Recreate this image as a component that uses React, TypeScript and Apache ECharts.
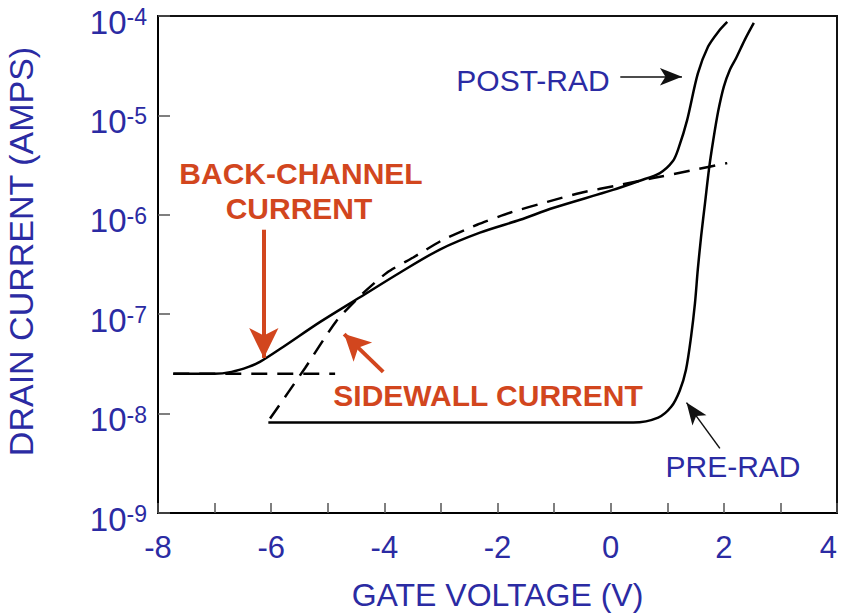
import React, { useEffect, useRef } from "react";
import * as echarts from "echarts";

// ---- data (gate voltage in V, drain current in A) ----
const postRadV = [-7.73, -7.0, -6.7, -6.4, -6.2, -5.79, -5.14, -4.43, -3.72, -3.02, -2.31, -1.6, -1.02, 0.04, 0.5, 0.87, 1.1, 1.2, 1.35, 1.54, 1.72, 1.9, 2.06];
const postRadI = [2.51e-8, 2.51e-8, 2.63e-8, 2.95e-8, 3.31e-8, 4.68e-8, 8.32e-8, 1.48e-7, 2.63e-7, 4.47e-7, 6.61e-7, 8.91e-7, 1.17e-6, 1.78e-6, 2.19e-6, 2.63e-6, 3.47e-6, 4.68e-6, 8.91e-6, 2.63e-5, 4.9e-5, 6.92e-5, 8.71e-5];

const preRadV = [-6.05, 0.0, 0.4, 0.84, 1.07, 1.22, 1.33, 1.42, 1.49, 1.54, 1.6, 1.67, 1.74, 1.81, 1.9, 2.0, 2.1, 2.22, 2.37, 2.53];
const preRadI = [8.13e-9, 8.13e-9, 8.13e-9, 9.12e-9, 1.17e-8, 1.7e-8, 2.75e-8, 5.89e-8, 1.29e-7, 2.82e-7, 6.17e-7, 1.35e-6, 2.95e-6, 5.5e-6, 1.1e-5, 1.95e-5, 2.82e-5, 3.8e-5, 5.75e-5, 8.51e-5];

const sidewallV = [-6.02, -5.4, -4.85, -4.4, -3.95, -3.49, -2.96, -2.36, -1.78, -1.12, -0.54, 0.17, 0.75, 1.46, 2.06];
const sidewallI = [8.91e-9, 2.88e-8, 8.51e-8, 1.58e-7, 2.63e-7, 3.72e-7, 5.62e-7, 7.94e-7, 1.05e-6, 1.35e-6, 1.66e-6, 2.0e-6, 2.34e-6, 2.82e-6, 3.31e-6];

const backChannelV = [-7.73, -4.87];
const backChannelI = [2.51e-8, 2.51e-8];

const xTicks = [-8, -6, -4, -2, 0, 2, 4];
const yExponents = [-4, -5, -6, -7, -8, -9];

const BLUE = "#2b2ba3";
const RED = "#d2461e";
const FONT = "'Liberation Sans', Arial, Helvetica, sans-serif";

const zip = (xs: number[], ys: number[]) => xs.map((x, i) => [x, ys[i]]);

export default function App() {
  const ref = useRef<HTMLDivElement>(null);
  useEffect(() => {
    document.body.style.margin = "0";
    const chart = echarts.init(ref.current!, null, { renderer: "svg" });
    const solid = { color: "#000", width: 2.5 };
    const dashed = { color: "#000", width: 2.5, type: [16, 10] as any };
    chart.setOption({
      animation: false,
      backgroundColor: "#fff",
      grid: {
        left: 158, right: 6, top: 16, bottom: 100,
        outerBoundsMode: "none", containLabel: false,
        show: true, borderColor: "#111", borderWidth: 2,
      },
      xAxis: {
        type: "value",
        min: -8,
        max: 4,
        interval: 1,
        name: "GATE VOLTAGE (V)",
        nameLocation: "middle",
        nameGap: 66,
        nameTextStyle: { color: BLUE, fontSize: 32, fontFamily: FONT },
        axisLine: { show: true, onZero: false, lineStyle: { color: "#000", width: 2 } },
        axisTick: { show: true, inside: true, length: 10, lineStyle: { color: "#555", width: 1.5 } },
        axisLabel: {
          color: BLUE,
          fontSize: 31,
          fontFamily: FONT,
          margin: 19,
          alignMaxLabel: "right",
          formatter: (v: number) => (xTicks.includes(v) ? String(v) : ""),
        },
        splitLine: { show: false },
      },
      yAxis: {
        type: "log",
        logBase: 10,
        min: 1e-9,
        max: 1e-4,
        name: "DRAIN CURRENT (AMPS)",
        nameLocation: "middle",
        nameGap: 120,
        nameTextStyle: { color: BLUE, fontSize: 34, fontFamily: FONT, padding: [0, 0, 0, 26] },
        axisLine: { show: true, onZero: false, lineStyle: { color: "#000", width: 2 } },
        axisTick: { show: true, inside: true, length: 12, lineStyle: { color: "#555", width: 1.5 } },
        axisLabel: {
          color: BLUE,
          fontFamily: FONT,
          margin: 11,
          padding: [12, 0, 0, 0],
          formatter: (v: number) => {
            const e = Math.round(Math.log10(v));
            return yExponents.includes(e) ? `{b|10}{s|${e}}` : "";
          },
          rich: {
            b: { fontSize: 33, color: BLUE, fontFamily: FONT, lineHeight: 33 },
            s: { fontSize: 23, color: BLUE, fontFamily: FONT, verticalAlign: "top", lineHeight: 23 },
          },
        },
        splitLine: { show: false },
      },
      series: [
        { name: "POST-RAD", type: "line", data: zip(postRadV, postRadI), showSymbol: false, smooth: 0.3, lineStyle: solid, silent: true },
        { name: "PRE-RAD", type: "line", data: zip(preRadV, preRadI), showSymbol: false, smooth: 0.3, lineStyle: solid, silent: true },
        { name: "SIDEWALL", type: "line", data: zip(sidewallV, sidewallI), showSymbol: false, smooth: 0.2, lineStyle: dashed, silent: true },
        {
          name: "BACK-CHANNEL",
          type: "line",
          data: zip(backChannelV, backChannelI),
          showSymbol: false,
          lineStyle: dashed,
          silent: true,
          markLine: {
            silent: true,
            animation: false,
            label: { show: false },
            data: [
              [
                { coord: [-6.13, 7.08e-7], symbol: "none", lineStyle: { color: RED, width: 4, type: "solid" } },
                { coord: [-6.13, 3.63e-8], symbol: "arrow", symbolSize: [22, 30] },
              ],
              [
                { coord: [-4.02, 2.63e-8], symbol: "none", lineStyle: { color: RED, width: 4, type: "solid" } },
                { coord: [-4.71, 6.31e-8], symbol: "arrow", symbolSize: [20, 26] },
              ],
              [
                { coord: [0.17, 2.45e-5], symbol: "none", lineStyle: { color: "#111", width: 1.5, type: "solid" } },
                { coord: [1.26, 2.45e-5], symbol: "arrow", symbolSize: [13, 22] },
              ],
              [
                { coord: [1.93, 4.47e-9], symbol: "none", lineStyle: { color: "#111", width: 1.5, type: "solid" } },
                { coord: [1.34, 1.29e-8], symbol: "arrow", symbolSize: [13, 22] },
              ],
            ],
          },
        },
      ],
      graphic: [
        { type: "text", x: 533, y: 80, style: { text: "POST-RAD", fill: BLUE, font: `30px ${FONT}`, textAlign: "center", textVerticalAlign: "middle" } },
        { type: "text", x: 733, y: 466, style: { text: "PRE-RAD", fill: BLUE, font: `30px ${FONT}`, textAlign: "center", textVerticalAlign: "middle" } },
        { type: "text", x: 301, y: 173, style: { text: "BACK-CHANNEL", fill: RED, font: `bold 30px ${FONT}`, textAlign: "center", textVerticalAlign: "middle" } },
        { type: "text", x: 299, y: 208, style: { text: "CURRENT", fill: RED, font: `bold 30px ${FONT}`, textAlign: "center", textVerticalAlign: "middle" } },
        { type: "text", x: 488, y: 395, style: { text: "SIDEWALL CURRENT", fill: RED, font: `bold 30px ${FONT}`, textAlign: "center", textVerticalAlign: "middle" } },
      ],
    });
    return () => chart.dispose();
  }, []);
  return <div ref={ref} style={{ width: 843, height: 613 }} />;
}
